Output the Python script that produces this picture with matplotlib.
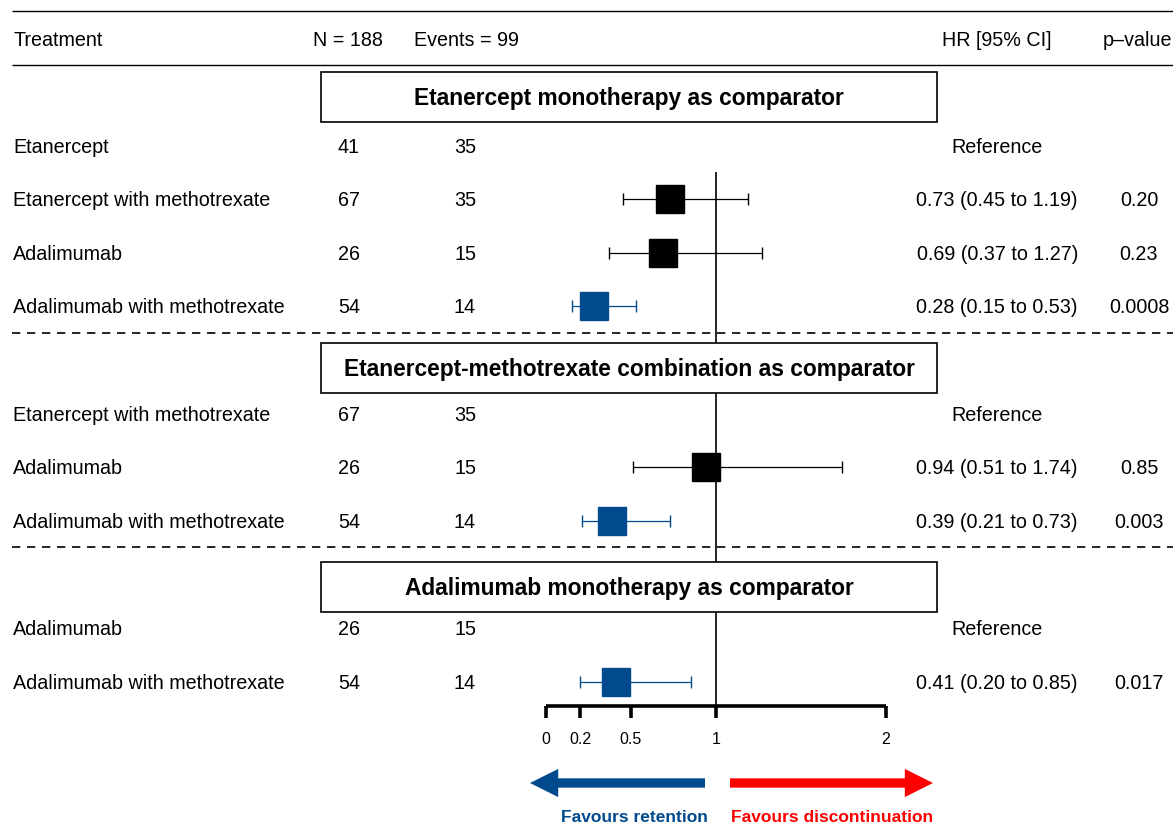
import matplotlib.pyplot as plt

# Define data.
sections = [
    "Etanercept monotherapy as comparator",
    "Etanercept-methotrexate combination as comparator",
    "Adalimumab monotherapy as comparator",
]
treatments = [
    ["Etanercept", "Etanercept with methotrexate", "Adalimumab", "Adalimumab with methotrexate"],
    ["Etanercept with methotrexate", "Adalimumab", "Adalimumab with methotrexate"],
    ["Adalimumab", "Adalimumab with methotrexate"],
]
n_patients = [[41, 67, 26, 54], [67, 26, 54], [26, 54]]
n_events = [[35, 35, 15, 14], [35, 15, 14], [15, 14]]
hr = [[None, 0.73, 0.69, 0.28], [None, 0.94, 0.39], [None, 0.41]]
ci_low = [[None, 0.45, 0.37, 0.15], [None, 0.51, 0.21], [None, 0.20]]
ci_high = [[None, 1.19, 1.27, 0.53], [None, 1.74, 0.73], [None, 0.85]]
p_values = [[None, "0.20", "0.23", "0.0008"], [None, "0.85", "0.003"], [None, "0.017"]]
x_ticks = [0, 0.2, 0.5, 1, 2]
x_tick_labels = ["0", "0.2", "0.5", "1", "2"]

BLUE = "#004a8d"
RED = "#ff0000"
W, H = 1173, 824

plt.rcParams['font.family'] = ['Liberation Sans', 'DejaVu Sans']
fig = plt.figure(figsize=(W / 100, H / 100), dpi=100)

# Forest axes in HR units, layout axes in pixel units on top of it.
ax = fig.add_axes([0, 0, 1, 1])
px_per_unit = 170
x0_px = 546
ax.set_xlim(-x0_px / px_per_unit, (W - x0_px) / px_per_unit)
ax.set_ylim(H, 0)
ax.axis('off')
ax.set_zorder(1)

lay = fig.add_axes([0, 0, 1, 1])
lay.set_xlim(0, W)
lay.set_ylim(H, 0)
lay.axis('off')
lay.set_zorder(2)
lay.patch.set_visible(False)

fs = 14.2
dy = 1.5  # text baseline nudge
col_n, col_ev, col_hr, col_p = 349, 465, 997, 1139

# Header.
lay.hlines([11, 65], 12, W, color='black', lw=1.0)
lay.text(13, 39 + dy, "Treatment", fontsize=fs, va='center')
lay.text(313, 39 + dy, "N = 188", fontsize=fs, va='center')
lay.text(414, 39 + dy, "Events = 99", fontsize=fs, va='center')
lay.text(col_hr, 39 + dy, "HR [95% CI]", fontsize=fs, va='center', ha='center')
lay.text(1137, 39 + dy, "p\u2013value", fontsize=fs, va='center', ha='center')

# Section layout (pixel y of title box and rows).
box_y = [97, 368, 587]
row_y = [[146, 199, 253, 306], [414, 467, 521], [628, 682]]
dash_y = [333, 547]

for s, title in enumerate(sections):
    lay.add_patch(plt.Rectangle((321, box_y[s] - 25), 616, 50, facecolor='white',
                                edgecolor='black', lw=1.2))
    lay.text(629, box_y[s] + dy, title, fontsize=16.4, fontweight='bold',
             ha='center', va='center')
    for i, name in enumerate(treatments[s]):
        y = row_y[s][i]
        lay.text(13, y + dy, name, fontsize=fs, va='center')
        lay.text(col_n, y + dy, str(n_patients[s][i]), fontsize=fs, va='center', ha='center')
        lay.text(col_ev, y + dy, str(n_events[s][i]), fontsize=fs, va='center', ha='center')
        if hr[s][i] is None:
            lay.text(col_hr, y + dy, "Reference", fontsize=fs, va='center', ha='center')
            continue
        label = f"{hr[s][i]:.2f} ({ci_low[s][i]:.2f} to {ci_high[s][i]:.2f})"
        lay.text(1078, y + dy, label, fontsize=fs, va='center', ha='right')
        lay.text(col_p, y + dy, p_values[s][i], fontsize=fs, va='center', ha='center')
        color = BLUE if ci_high[s][i] < 1 else 'black'
        ax.errorbar(hr[s][i], y,
                    xerr=[[hr[s][i] - ci_low[s][i]], [ci_high[s][i] - hr[s][i]]],
                    fmt='s', color=color, ms=20, mec=color, ecolor=color,
                    elinewidth=0.9, capsize=4.0, capthick=1.0, zorder=3)

for y in dash_y:
    lay.hlines(y, 12, W, color='black', lw=1.2, linestyles=(0, (5, 4)))

# Reference line at HR = 1.
ax.vlines(1, 172, 706, color='black', lw=1.2)

# HR axis.
axis_y = 706
ax.hlines(axis_y, x_ticks[0], x_ticks[-1], color='black', lw=2.6)
ax.vlines(x_ticks, axis_y, axis_y + 12, color='black', lw=2.6)
for t, lbl in zip(x_ticks, x_tick_labels):
    ax.text(t, 739, lbl, fontsize=11.5, ha='center', va='center')

# Direction arrows.
arrow_y = 783
lay.annotate("", xy=(530, arrow_y), xytext=(705, arrow_y),
             arrowprops=dict(arrowstyle="simple,head_length=1.45,head_width=1.45,tail_width=0.48",
                             color=BLUE, lw=0, shrinkA=0, shrinkB=0,
                             mutation_scale=14))
lay.annotate("", xy=(933, arrow_y), xytext=(730, arrow_y),
             arrowprops=dict(arrowstyle="simple,head_length=1.45,head_width=1.45,tail_width=0.48",
                             color=RED, lw=0, shrinkA=0, shrinkB=0,
                             mutation_scale=14))
lay.text(634, 817, "Favours retention", fontsize=12.5, fontweight='bold',
         color=BLUE, ha='center', va='center')
lay.text(832, 817, "Favours discontinuation", fontsize=12.5, fontweight='bold',
         color=RED, ha='center', va='center')

plt.savefig('out.png', dpi=100)
